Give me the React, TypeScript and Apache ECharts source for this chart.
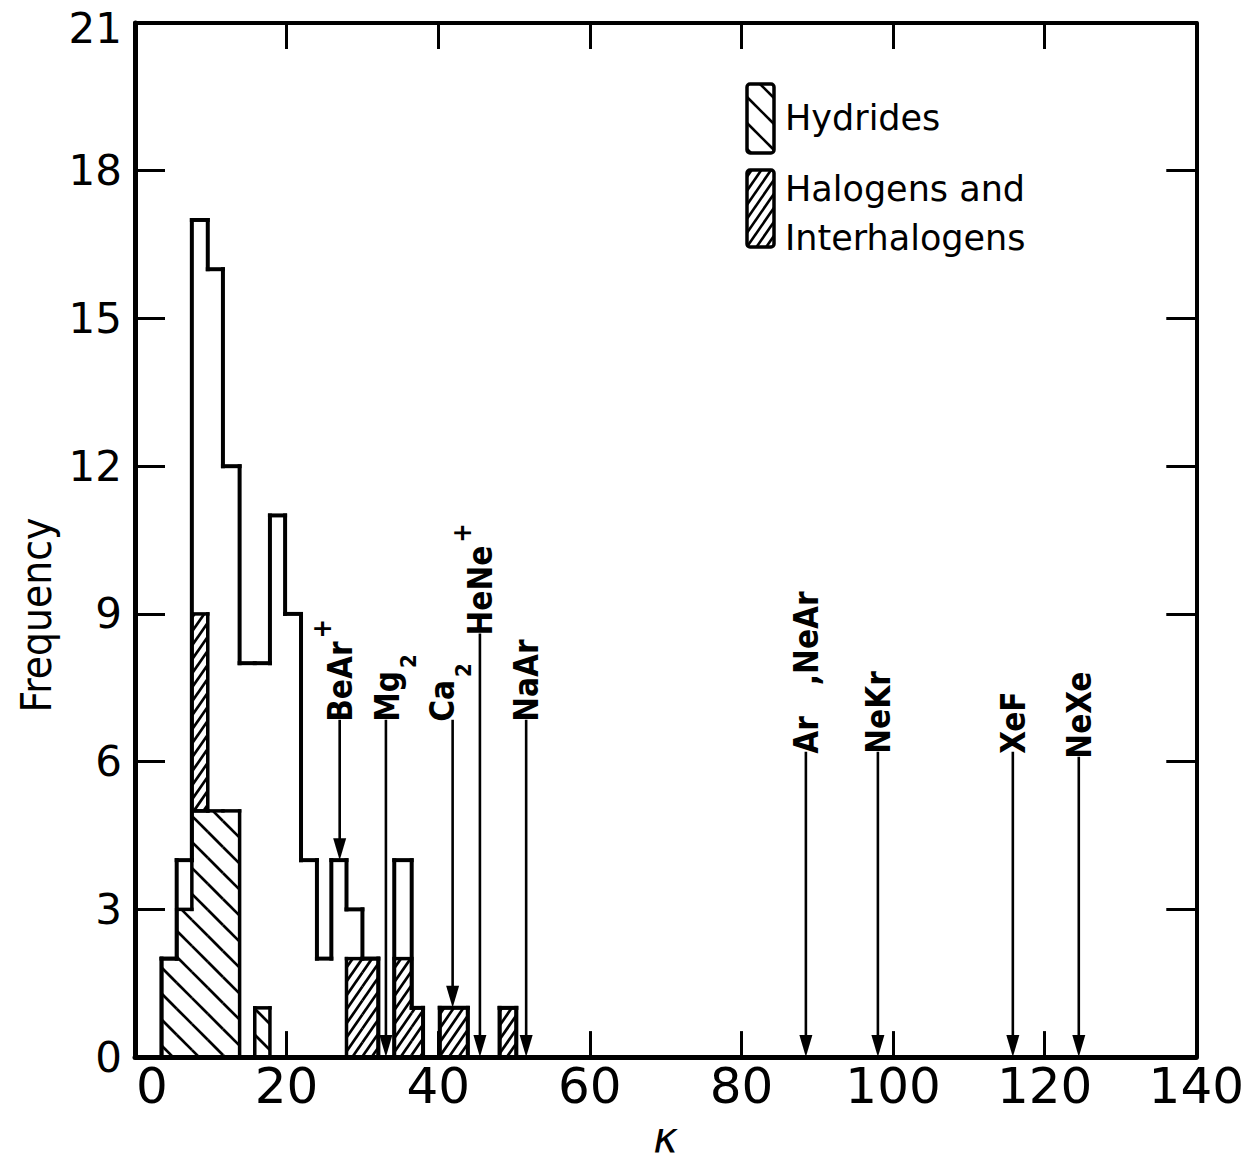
import React, { useEffect, useRef } from 'react';
import * as echarts from 'echarts';

// ---- Histogram data (kappa bins) ----
const binStart = [3.5, 5.5, 7.5, 9.6, 11.6, 13.8, 15.8, 17.8, 19.8, 21.9, 24.0, 25.9, 27.9, 30.0, 34.2, 36.5, 40.2, 48.1];
const binEnd = [5.5, 7.5, 9.6, 11.6, 13.8, 15.8, 17.8, 19.8, 21.9, 24.0, 25.9, 27.9, 30.0, 32.1, 36.5, 38.0, 43.9, 50.3];
const totalCounts = [2, 4, 17, 16, 12, 8, 8, 11, 9, 4, 2, 4, 3, 2, 4, 1, 1, 1];
const hydrideCounts = [2, 3, 5, 5, 5, 0, 1, 0, 0, 0, 0, 0, 0, 0, 0, 0, 0, 0];
const halogenCounts = [0, 0, 4, 0, 0, 0, 0, 0, 0, 0, 0, 0, 2, 2, 2, 1, 1, 1];

// ---- Annotated molecules (arrows) ----
const arrowLabels = ['{m|BeAr}{sup|+}', '{t|Mg}{sub|2}', '{t|Ca}{sub|2}', '{m|HeNe}{sup|+}', '{m|NaAr}', '{m|Ar   ,NeAr}', '{m|NeKr}', '{m|XeF}', '{m|NeXe}'];
const arrowK = [27.0, 33.1, 41.9, 45.5, 51.6, 88.5, 98.0, 115.8, 124.5];
const arrowTip = [4, 0, 1, 0, 0, 0, 0, 0, 0];
const arrowTop = [6.85, 6.85, 6.85, 8.6, 6.85, 6.2, 6.2, 6.2, 6.1];
// label horizontal nudges in pixels (layout only)
const labelDx = [0, -2, -14, 0, 0, 0, 0, 0, 0];

// ---- Axes ----
const xMin = 0, xMax = 140, xStep = 20;
const yMin = 0, yMax = 21, yStep = 3;

const SANS = "'DejaVu Sans', 'Liberation Sans', sans-serif";
const COND = "'DejaVu Sans Condensed', 'Liberation Sans Narrow', 'DejaVu Sans', sans-serif";

function hatchLines(x0: number, y0: number, x1: number, y1: number, dir: number, m: number, dv: number) {
  const segs: number[][] = [];
  if (dir === 1) {
    const cmin = y0 - m * x1, cmax = y1 - m * x0;
    for (let c = Math.ceil(cmin / dv) * dv; c <= cmax; c += dv) {
      const xa = Math.max(x0, (y0 - c) / m), xb = Math.min(x1, (y1 - c) / m);
      if (xb - xa > 0.8) segs.push([xa, m * xa + c, xb, m * xb + c]);
    }
  } else {
    const cmin = y0 + m * x0, cmax = y1 + m * x1;
    for (let c = Math.ceil(cmin / dv) * dv; c <= cmax; c += dv) {
      const xa = Math.max(x0, (c - y1) / m), xb = Math.min(x1, (c - y0) / m);
      if (xb - xa > 0.8) segs.push([xa, -m * xa + c, xb, -m * xb + c]);
    }
  }
  return segs;
}

function symDiff(a: number[] | null, c: number[] | null): number[][] {
  const A = a && a[1] > a[0] ? a : null;
  const C = c && c[1] > c[0] ? c : null;
  if (!A && !C) return [];
  if (!A) return [C as number[]];
  if (!C) return [A];
  if (A[1] <= C[0] || C[1] <= A[0]) return [A, C];
  const r: number[][] = [];
  const lo = [Math.min(A[0], C[0]), Math.max(A[0], C[0])];
  const hi = [Math.min(A[1], C[1]), Math.max(A[1], C[1])];
  if (lo[1] > lo[0]) r.push(lo);
  if (hi[1] > hi[0]) r.push(hi);
  return r;
}

const HATCH = {
  hyd: { dir: 1, m: 1.0, dv: 26 },
  hal: { dir: -1, m: 1.45, dv: 14 },
};

function makeLayerRender(base: number[], top: number[], hatch: { dir: number; m: number; dv: number } | null, lw: number) {
  const n = binStart.length;
  return (params: any, api: any) => {
    const i = params.dataIndex;
    const children: any[] = [];
    const x0 = binStart[i], x1 = binEnd[i];
    const b = base[i], t = top[i];
    const lineStyle = { stroke: '#000', lineWidth: lw, lineCap: 'square' };
    if (t > b) {
      const pb = api.coord([x0, b]);
      const pt = api.coord([x1, t]);
      if (hatch) {
        const segs = hatchLines(pb[0], pt[1], pt[0], pb[1], hatch.dir, hatch.m, hatch.dv);
        segs.forEach((s) => children.push({
          type: 'line', shape: { x1: s[0], y1: s[1], x2: s[2], y2: s[3] },
          style: { stroke: '#000', lineWidth: 2.7 },
        }));
      }
      const a = api.coord([x0, t]), z = api.coord([x1, t]);
      children.push({ type: 'line', shape: { x1: a[0], y1: a[1], x2: z[0], y2: z[1] }, style: lineStyle });
      if (b > 0) {
        const a2 = api.coord([x0, b]), z2 = api.coord([x1, b]);
        children.push({ type: 'line', shape: { x1: a2[0], y1: a2[1], x2: z2[0], y2: z2[1] }, style: lineStyle });
      }
    }
    const adjPrev = i > 0 && binEnd[i - 1] === binStart[i];
    const prev = adjPrev ? [base[i - 1], top[i - 1]] : null;
    symDiff([b, t], prev).forEach((s) => {
      const p = api.coord([x0, s[0]]), q = api.coord([x0, s[1]]);
      children.push({ type: 'line', shape: { x1: p[0], y1: p[1], x2: q[0], y2: q[1] }, style: lineStyle });
    });
    const adjNext = i < n - 1 && binStart[i + 1] === binEnd[i];
    if (!adjNext && t > b) {
      const p = api.coord([x1, b]), q = api.coord([x1, t]);
      children.push({ type: 'line', shape: { x1: p[0], y1: p[1], x2: q[0], y2: q[1] }, style: lineStyle });
    }
    return { type: 'group', children };
  };
}

function legendBox(x: number, y: number, w: number, h: number, hatch: { dir: number; m: number; dv: number }) {
  const els: any[] = [];
  hatchLines(x, y, x + w, y + h, hatch.dir, hatch.m, hatch.dv).forEach((s) => els.push({
    type: 'line', shape: { x1: s[0], y1: s[1], x2: s[2], y2: s[3] }, style: { stroke: '#000', lineWidth: 2.6 },
  }));
  els.push({ type: 'rect', shape: { x, y, width: w, height: h, r: 3 }, style: { fill: 'none', stroke: '#000', lineWidth: 3.5 } });
  return els;
}

export default function App() {
  const ref = useRef<HTMLDivElement>(null);
  useEffect(() => {
    const chart = echarts.init(ref.current as HTMLDivElement, null, { renderer: 'svg' });
    const zeros = binStart.map(() => 0);
    const halBase = hydrideCounts.slice();
    const halTop = hydrideCounts.map((h, i) => h + halogenCounts[i]);

    const axisLineStyle = { color: '#000', width: 5 };
    const tickStyle = { color: '#000', width: 3 };
    const LF = 33;

    const option: any = {
      animation: false,
      backgroundColor: '#fff',
      grid: { left: 135, right: 49, top: 23, bottom: 96, containLabel: false },
      xAxis: [
        {
          type: 'value', min: xMin, max: xMax, interval: xStep, position: 'bottom',
          axisLine: { show: true, onZero: false, lineStyle: axisLineStyle },
          axisTick: { show: true, inside: true, length: 26, lineStyle: tickStyle },
          splitLine: { show: false },
          axisLabel: {
            show: true, color: '#000', fontSize: 50, fontFamily: SANS, margin: 4,
            showMinLabel: true, showMaxLabel: true,
            formatter: (v: number) => (v === 0 ? '{z|0}' : String(v)),
            rich: { z: { fontSize: 50, fontFamily: SANS, color: '#000', padding: [0, 0, 0, 34] } },
          },
          name: 'κ', nameLocation: 'middle', nameGap: 50,
          nameTextStyle: { fontSize: 42, fontStyle: 'italic', fontFamily: SANS, color: '#000' },
        },
        {
          type: 'value', min: xMin, max: xMax, interval: xStep, position: 'top',
          axisLine: { show: true, onZero: false, lineStyle: { color: '#000', width: 4 } },
          axisTick: { show: true, inside: true, length: 26, lineStyle: tickStyle },
          splitLine: { show: false },
          axisLabel: { show: false },
        },
      ],
      yAxis: [
        {
          type: 'value', min: yMin, max: yMax, interval: yStep, position: 'left',
          axisLine: { show: true, onZero: false, lineStyle: axisLineStyle },
          axisTick: { show: true, inside: true, length: 30, lineStyle: tickStyle },
          splitLine: { show: false },
          axisLabel: {
            show: true, color: '#000', fontSize: 42, fontFamily: SANS, margin: 13, showMinLabel: true, showMaxLabel: true,
            formatter: (v: number) => (v === yMax ? '{t|' + v + '}' : String(v)),
            rich: { t: { fontSize: 42, fontFamily: SANS, color: '#000', padding: [10, 0, 0, 0] } },
          },
          name: 'Frequency', nameLocation: 'middle', nameGap: 76, nameRotate: 90,
          nameTextStyle: { fontSize: 42, fontFamily: COND, color: '#000', padding: [0, 150, 0, 0] },
        },
        {
          type: 'value', min: yMin, max: yMax, interval: yStep, position: 'right',
          axisLine: { show: true, onZero: false, lineStyle: { color: '#000', width: 4 } },
          axisTick: { show: true, inside: true, length: 30, lineStyle: tickStyle },
          splitLine: { show: false },
          axisLabel: { show: false },
        },
      ],
      series: [
        {
          name: 'Hydrides', type: 'custom', z: 2, clip: false,
          data: binStart.map((s, i) => [s, binEnd[i], 0, hydrideCounts[i]]),
          encode: { x: [0, 1], y: [2, 3] },
          renderItem: makeLayerRender(zeros, hydrideCounts, HATCH.hyd, 3.5),
        },
        {
          name: 'Halogens and Interhalogens', type: 'custom', z: 2, clip: false,
          data: binStart.map((s, i) => [s, binEnd[i], halBase[i], halTop[i]]),
          encode: { x: [0, 1], y: [2, 3] },
          renderItem: makeLayerRender(halBase, halTop, HATCH.hal, 3.5),
        },
        {
          name: 'All molecules', type: 'custom', z: 3, clip: false,
          data: binStart.map((s, i) => [s, binEnd[i], 0, totalCounts[i]]),
          encode: { x: [0, 1], y: [2, 3] },
          renderItem: makeLayerRender(zeros, totalCounts, null, 4),
        },
        {
          name: 'Molecules', type: 'custom', z: 4, clip: false,
          data: arrowK.map((k, i) => [k, arrowTip[i], arrowTop[i]]),
          encode: { x: 0, y: [1, 2] },
          renderItem: (params: any, api: any) => {
            const i = params.dataIndex;
            const tip = api.coord([arrowK[i], arrowTip[i]]);
            const top = api.coord([arrowK[i], arrowTop[i]]);
            const headH = 22, headW = 6.5;
            return {
              type: 'group',
              children: [
                { type: 'line', shape: { x1: top[0], y1: top[1], x2: tip[0], y2: tip[1] - headH + 3 }, style: { stroke: '#000', lineWidth: 2.6 } },
                { type: 'polygon', shape: { points: [[tip[0] - headW, tip[1] - headH], [tip[0] + headW, tip[1] - headH], [tip[0], tip[1]]] }, style: { fill: '#000' } },
                {
                  type: 'text', x: top[0] + 2 + labelDx[i], y: top[1] + 2, rotation: Math.PI / 2,
                  style: {
                    text: arrowLabels[i], align: 'left', verticalAlign: 'middle', fill: '#000',
                    fontSize: LF, fontWeight: 'bold', fontFamily: COND,
                    rich: {
                      m: { fontSize: LF, fontWeight: 'bold', fontFamily: COND, fill: '#000', color: '#000', lineHeight: 30, verticalAlign: 'bottom' },
                      t: { fontSize: LF, fontWeight: 'bold', fontFamily: COND, fill: '#000', color: '#000', lineHeight: 30, verticalAlign: 'top' },
                      sup: { fontSize: 26, fontWeight: 'bold', fontFamily: COND, fill: '#000', color: '#000', lineHeight: 26, padding: [0, 0, 22, 3], verticalAlign: 'bottom' },
                      sub: { fontSize: 22, fontWeight: 'bold', fontFamily: COND, fill: '#000', color: '#000', lineHeight: 22, padding: [27, 0, 0, 3], verticalAlign: 'top' },
                    },
                  },
                },
              ],
            };
          },
        },
      ],
      graphic: [
        ...legendBox(747, 84, 27, 69, HATCH.hyd),
        { type: 'text', x: 785, y: 118, style: { text: 'Hydrides', fontSize: 35, fontFamily: SANS, fill: '#000', verticalAlign: 'middle' } },
        ...legendBox(747, 170, 27, 77, HATCH.hal),
        { type: 'text', x: 785, y: 189, style: { text: 'Halogens and', fontSize: 35, fontFamily: SANS, fill: '#000', verticalAlign: 'middle' } },
        { type: 'text', x: 785, y: 238, style: { text: 'Interhalogens', fontSize: 35, fontFamily: SANS, fill: '#000', verticalAlign: 'middle' } },
      ],
    };
    chart.setOption(option);
    return () => chart.dispose();
  }, []);
  return <div ref={ref} style={{ position: 'absolute', left: 0, top: 0, width: 1247, height: 1163, background: '#fff' }} />;
}
